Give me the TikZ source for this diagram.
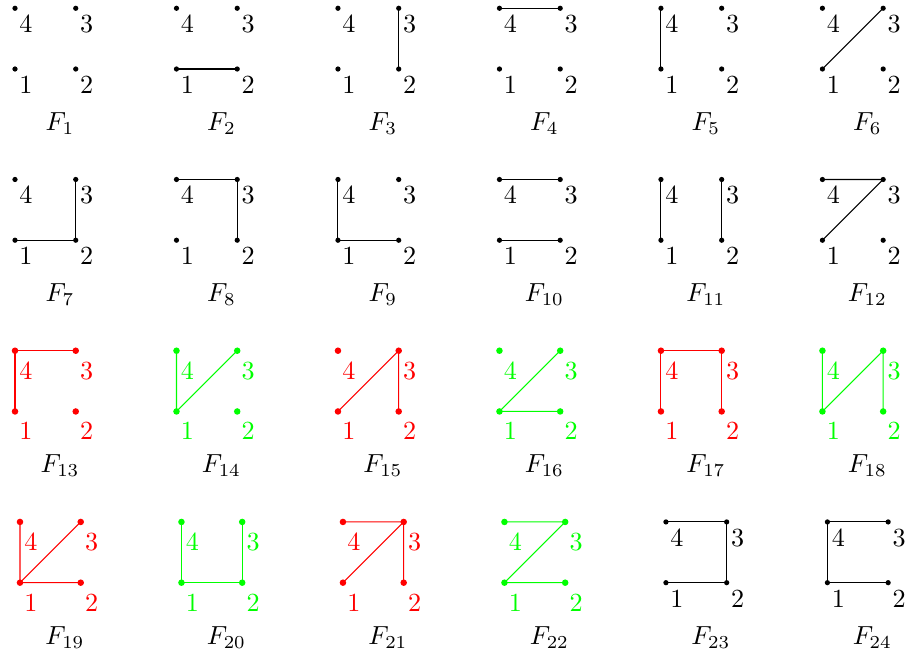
\documentclass[tikz,border=0pt]{standalone}
\usepackage{amsmath,amssymb}
\usepackage{xcolor}
\usepackage{tikz}
\tikzset{
bw/.style={
black,
radius=1pt,
inner ysep=2.7pt
},
hot/.style={
red,
radius=1.25pt,
inner ysep=4.2pt
},
cool/.style={
green,
radius=1.25pt,
inner ysep=4.2pt
},
edge/.style={
line width=0.4pt
},
vlabel/.style={
anchor=north west,
inner xsep=1.5pt
},
caption/.style={
anchor=base,
black
}
}
% one graph: x, y, index, colour style, edges
\newcommand{\fgraph}[5]{%
\begin{scope}[shift={(#1,#2)},name prefix=f#3-]
\coordinate(1) at (0,0);
\coordinate(2) at (0.817,0);
\coordinate(3) at (0.817,0.817);
\coordinate(4) at (0,0.817);
\draw[edge,#4] #5;
\foreach \k in {1,...,4}{
\fill[#4] (\k) circle;
\node[vlabel,#4] (l\k) at (\k) {$\k$};
}
\node[caption] (cap) at (0.605,-0.827) {$F_{#3}$};
\end{scope}}

\begin{document}
\begin{tikzpicture}
\useasboundingbox (-0.2018,0.928) rectangle (12.011,-7.868);

% first row
\fgraph{0}{0}{1}{bw}{}
\fgraph{2.172}{0}{2}{bw}{(1)--(2)}
\fgraph{4.344}{0}{3}{bw}{(2)--(3)}
\fgraph{6.516}{0}{4}{bw}{(4)--(3)}
\fgraph{8.688}{0}{5}{bw}{(1)--(4)}
\fgraph{10.86}{0}{6}{bw}{(1)--(3)}

% second row
\fgraph{0}{-2.303}{7}{bw}{(1)--(2)--(3)}
\fgraph{2.172}{-2.303}{8}{bw}{(4)--(3)--(2)}
\fgraph{4.344}{-2.303}{9}{bw}{(4)--(1)--(2)}
\fgraph{6.516}{-2.303}{10}{bw}{(4)--(3) (1)--(2)}
\fgraph{8.688}{-2.303}{11}{bw}{(1)--(4) (2)--(3)}
\fgraph{10.86}{-2.303}{12}{bw}{(4)--(3)--(1)}

% third row
\fgraph{0}{-4.606}{13}{hot}{(1)--(4)--(3)}
\fgraph{2.172}{-4.606}{14}{cool}{(4)--(1)--(3)}
\fgraph{4.344}{-4.606}{15}{hot}{(1)--(3)--(2)}
\fgraph{6.516}{-4.606}{16}{cool}{(3)--(1)--(2)}
\fgraph{8.688}{-4.606}{17}{hot}{(1)--(4)--(3)--(2)}
\fgraph{10.86}{-4.606}{18}{cool}{(4)--(1)--(3)--(2)}

% fourth row
\fgraph{0.067}{-6.909}{19}{hot}{(4)--(1)--(3) (1)--(2)}
\fgraph{2.239}{-6.909}{20}{cool}{(4)--(1)--(2)--(3)}
\fgraph{4.411}{-6.909}{21}{hot}{(4)--(3)--(1) (3)--(2)}
\fgraph{6.583}{-6.909}{22}{cool}{(4)--(3)--(1)--(2)}
\fgraph{8.755}{-6.909}{23}{bw}{(4)--(3)--(2)--(1)}
\fgraph{10.927}{-6.909}{24}{bw}{(3)--(4)--(1)--(2)}
\end{tikzpicture}
\end{document}
